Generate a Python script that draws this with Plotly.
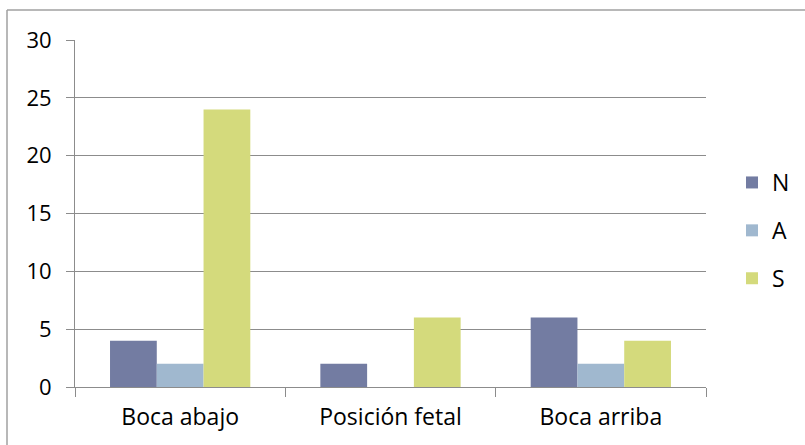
import plotly.graph_objects as go

categories = ["Boca abajo", "Posición fetal", "Boca arriba"]
series_names = ["N", "A", "S"]
values_N = [4, 2, 6]
values_A = [2, 0, 2]
values_S = [24, 6, 4]
colors = ["#737CA2", "#A0B8CF", "#D4DA7C"]
y_ticks = [0, 5, 10, 15, 20, 25, 30]

W, H = 805, 445
L, R, T, B = 75, 99, 40, 58

fig = go.Figure()
for name, vals, col in zip(series_names, [values_N, values_A, values_S], colors):
    fig.add_trace(go.Bar(x=categories, y=vals, name=name, legendgroup=name,
                         marker=dict(color=col, line=dict(width=0))))

font_family = "Open Sans, Noto Sans, sans-serif"
pw = W - L - R
ph = H - T - B
fig.update_layout(
    width=W, height=H,
    margin=dict(l=L, r=R, t=T, b=B, autoexpand=False),
    paper_bgcolor="white", plot_bgcolor="white",
    barmode="group", bargap=0.333, bargroupgap=0,
    font=dict(family=font_family, size=23, color="#000000"),
    showlegend=True,
    legend=dict(x=(732 - L) / pw, y=1 - (161 - T) / ph, xanchor="left", yanchor="top",
                font=dict(size=23), itemwidth=30, tracegroupgap=15,
                traceorder="grouped", bgcolor="rgba(0,0,0,0)"),
    xaxis=dict(showgrid=False, showline=True, linecolor="#8c8c8c", linewidth=1,
               ticks="outside", tickson="boundaries", ticklen=9, tickcolor="#8c8c8c",
               tickfont=dict(size=23), range=[-0.5, 2.5], ticklabelstandoff=9),
    yaxis=dict(range=[0, 30], tickvals=y_ticks, showgrid=True, gridcolor="#8c8c8c",
               gridwidth=1, showline=True, linecolor="#8c8c8c", linewidth=1,
               ticks="outside", ticklen=8, tickcolor="#8c8c8c",
               tickfont=dict(size=22), zeroline=False, ticklabelstandoff=10),
    shapes=[
        dict(type="line", xref="paper", yref="paper",
             x0=(7 - L) / pw, x1=(806 - L) / pw,
             y0=1 + (T - 10) / ph, y1=1 + (T - 10) / ph,
             line=dict(color="#a0a0a0", width=1.5)),
        dict(type="line", xref="paper", yref="paper",
             x0=(7 - L) / pw, x1=(7 - L) / pw,
             y0=1 + (T - 10) / ph, y1=-(B + 2) / ph,
             line=dict(color="#a0a0a0", width=1.5)),
    ],
)

fig.write_html("out.html")
